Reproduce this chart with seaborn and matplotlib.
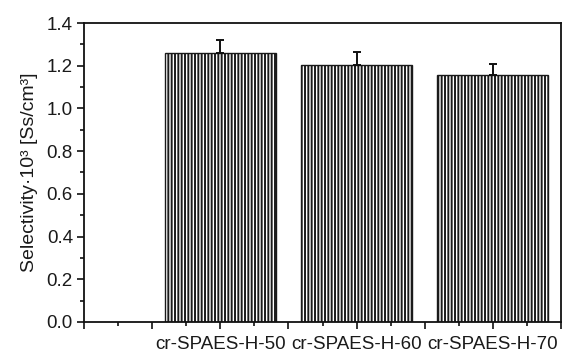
import matplotlib
matplotlib.use("Agg")
import matplotlib.pyplot as plt
import seaborn as sns
import numpy as np
import pandas as pd
from matplotlib.ticker import FixedLocator, MultipleLocator

# ---- data ----
categories = ["cr-SPAES-H-50", "cr-SPAES-H-60", "cr-SPAES-H-70"]
positions = [2, 4, 6]
selectivity = [1.26, 1.205, 1.155]
errors = [0.062, 0.057, 0.055]
ytick_values = [0.0, 0.2, 0.4, 0.6, 0.8, 1.0, 1.2, 1.4]

sns.set_style("ticks")
plt.rcParams['font.family'] = ['Liberation Sans', 'DejaVu Sans']
plt.rcParams['hatch.linewidth'] = 1.4
plt.rcParams['hatch.color'] = '#3a3a3a'

fig = plt.figure(figsize=(5.63, 3.52), dpi=100)
ax = fig.add_axes([84/563, 1 - 322/352, (561-84)/563, (322-23)/352])

df = pd.DataFrame({"pos": positions, "val": selectivity})
sns.barplot(data=df, x="pos", y="val", native_scale=True, width=0.815,
            color="white", edgecolor="#1a1a1a", linewidth=1.0,
            errorbar=None, ax=ax, saturation=1)
for p in ax.patches:
    p.set_hatch('|||||')
    p.set_facecolor('white')
    try:
        p.set_hatchcolor('#3a3a3a')
    except Exception:
        pass

ax.errorbar(positions, selectivity, yerr=[np.zeros(len(errors)), errors],
            fmt='none', ecolor='#111111', elinewidth=1.4, capsize=3.2,
            capthick=1.4, zorder=5)

ax.set_xlim(0, 7)
ax.set_ylim(0, 1.4)
major_x = list(range(0, 8))
labels_x = []
for m in major_x:
    labels_x.append(categories[positions.index(m)] if m in positions else "")
ax.xaxis.set_major_locator(FixedLocator(major_x))
ax.set_xticklabels(labels_x, fontsize=13.5)
ax.xaxis.set_minor_locator(MultipleLocator(0.5))
ax.yaxis.set_major_locator(FixedLocator(ytick_values))
ax.set_yticklabels([f"{v:.1f}" for v in ytick_values], fontsize=13.5)
ax.yaxis.set_minor_locator(MultipleLocator(0.1))

ax.tick_params(axis='both', which='major', direction='out', length=5,
               width=1.2, color='#111111', labelcolor='#1a1a1a')
ax.tick_params(axis='both', which='minor', direction='out', length=3,
               width=1.2, color='#111111')
ax.tick_params(axis='x', which='major', pad=5)
ax.tick_params(axis='y', which='major', pad=3)

for s in ax.spines.values():
    s.set_visible(True)
    s.set_linewidth(1.3)
    s.set_color('#111111')

ax.set_xlabel("")
ax.set_ylabel("Selectivity·10³ [Ss/cm³]", fontsize=14, color='#1a1a1a', labelpad=6)

fig.savefig("out.png", dpi=100)
